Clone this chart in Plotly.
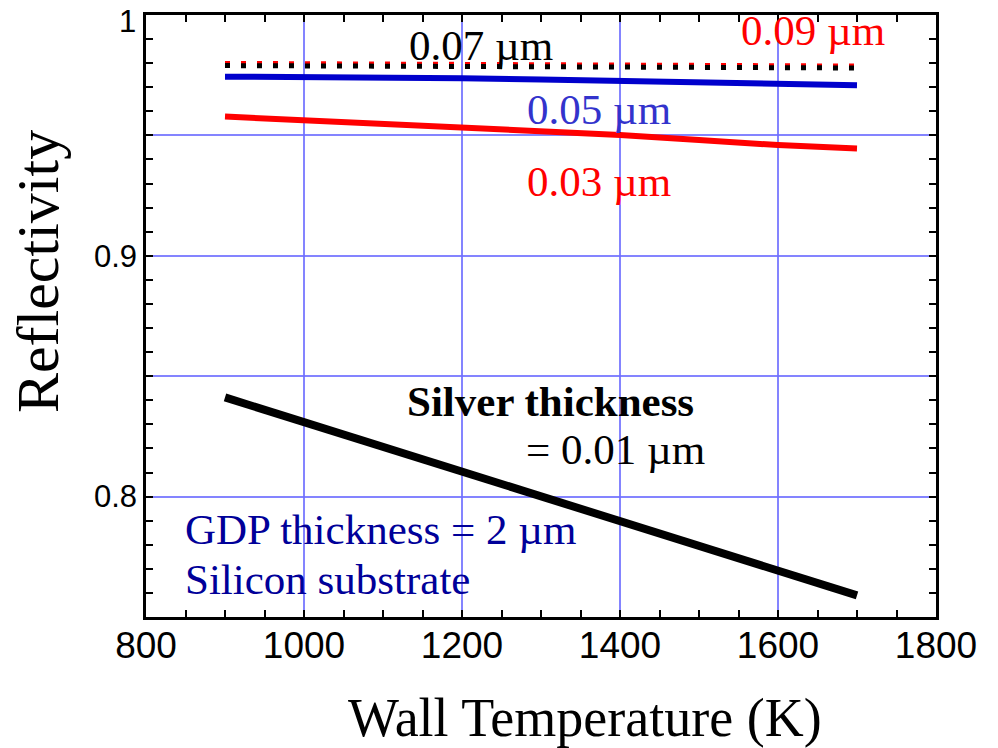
import plotly.graph_objects as go

# Wall temperature (K) at which reflectivity was computed
temperature = [900, 1000, 1100, 1200, 1300, 1400, 1500, 1600, 1700]

# Reflectivity for each silver layer thickness
refl_001 = [0.8412, 0.8310, 0.8210, 0.8105, 0.8000, 0.7897, 0.7795, 0.7695, 0.7590]
refl_003 = [0.9578, 0.9564, 0.9550, 0.9536, 0.9520, 0.9502, 0.9481, 0.9460, 0.9446]
refl_005 = [0.9744, 0.9743, 0.9741, 0.9737, 0.9732, 0.9726, 0.9721, 0.9716, 0.9708]
refl_007 = [0.9790, 0.9789, 0.9788, 0.9787, 0.9786, 0.9785, 0.9783, 0.9782, 0.9780]
refl_009 = [0.9799, 0.9798, 0.9797, 0.9796, 0.9795, 0.9793, 0.9791, 0.9790, 0.9788]

x_ticks = [800, 1000, 1200, 1400, 1600, 1800]
x_labels = ["800", "1000", "1200", "1400", "1600", "1800"]
y_ticks = [0.75, 0.80, 0.85, 0.90, 0.95, 1.00]
y_labels = ["", "0.8", "", "0.9", "", ""]
y_top_label = "1"

SERIF = "Liberation Serif, Times New Roman, serif"
SANS = "Liberation Sans, Arial, sans-serif"
GRID = "rgba(110,110,255,0.85)"

fig = go.Figure()

fig.add_trace(go.Scatter(x=temperature, y=refl_009, mode="lines",
                         line=dict(color="#ff0000", width=5, dash="5px,11px")))
fig.add_trace(go.Scatter(x=temperature, y=refl_007, mode="lines",
                         line=dict(color="#000000", width=5, dash="5px,11px")))
fig.add_trace(go.Scatter(x=temperature, y=refl_005, mode="lines",
                         line=dict(color="#0000cc", width=6)))
fig.add_trace(go.Scatter(x=temperature, y=refl_003, mode="lines",
                         line=dict(color="#ff0000", width=6)))
fig.add_trace(go.Scatter(x=temperature, y=refl_001, mode="lines",
                         line=dict(color="#000000", width=8)))

labels = [
    ("0.07 µm", 1130, 0.9875, "#000000", False),
    ("0.09 µm", 1550, 0.9934, "#ff0000", False),
    ("0.05 µm", 1280, 0.9606, "#3333cc", False),
    ("0.03 µm", 1280, 0.9307, "#ff0000", False),
    ("Silver thickness", 1128, 0.8397, "#000000", True),
    ("= 0.01 µm", 1278, 0.8194, "#000000", False),
    ("GDP thickness = 2 µm", 847, 0.7865, "#000099", False),
    ("Silicon substrate", 847, 0.7654, "#000099", False),
]
for text, xv, yv, color, bold in labels:
    fig.add_annotation(
        x=xv, y=yv, xref="x", yref="y", xanchor="left", yanchor="middle",
        text=f"<b>{text}</b>" if bold else text, showarrow=False,
        font=dict(family=SERIF, size=43, color=color),
    )

# top y-axis label, nudged down so it stays inside the page
fig.add_annotation(x=0, y=1.0, xref="paper", yref="y", xanchor="right",
                   yanchor="middle", xshift=-8, yshift=-6,
                   text=y_top_label, showarrow=False,
                   font=dict(family=SANS, size=31, color="#000000"))

fig.add_annotation(x=0.5557, y=-0.168, xref="paper", yref="paper",
                   text="Wall Temperature (K)", showarrow=False,
                   xanchor="center", yanchor="middle",
                   font=dict(family=SERIF, size=54, color="#000000"))
fig.add_annotation(x=-0.1367, y=0.573, xref="paper", yref="paper",
                   text="Reflectivity", showarrow=False, textangle=-90,
                   xanchor="center", yanchor="middle",
                   font=dict(family=SERIF, size=60, color="#000000"))

fig.update_xaxes(
    range=[800, 1800], tickvals=x_ticks, ticktext=x_labels,
    ticks="inside", ticklen=7, tickwidth=2, tickcolor="#000000",
    showgrid=True, gridcolor=GRID, gridwidth=2,
    showline=True, linecolor="#000000", linewidth=2.5, mirror="allticks",
    zeroline=False, ticklabelstandoff=-6, automargin=False,
    minor=dict(dtick=50, ticks="inside", ticklen=7, tickwidth=2,
               tickcolor="#000000", showgrid=False),
    tickfont=dict(family=SANS, size=37, color="#000000"),
)
fig.update_yaxes(
    range=[0.75, 1.0], tickvals=y_ticks, ticktext=y_labels,
    ticks="inside", ticklen=7, tickwidth=2, tickcolor="#000000",
    showgrid=True, gridcolor=GRID, gridwidth=2,
    showline=True, linecolor="#000000", linewidth=2.5, mirror="allticks",
    zeroline=False, automargin=False,
    minor=dict(dtick=0.01, ticks="inside", ticklen=7, tickwidth=2,
               tickcolor="#000000", showgrid=False),
    tickfont=dict(family=SANS, size=31, color="#000000"),
)

fig.update_layout(
    width=998, height=748,
    margin=dict(l=146, r=62, t=15, b=131),
    paper_bgcolor="#ffffff", plot_bgcolor="#ffffff",
    showlegend=False,
)

fig.write_html("out.html")
